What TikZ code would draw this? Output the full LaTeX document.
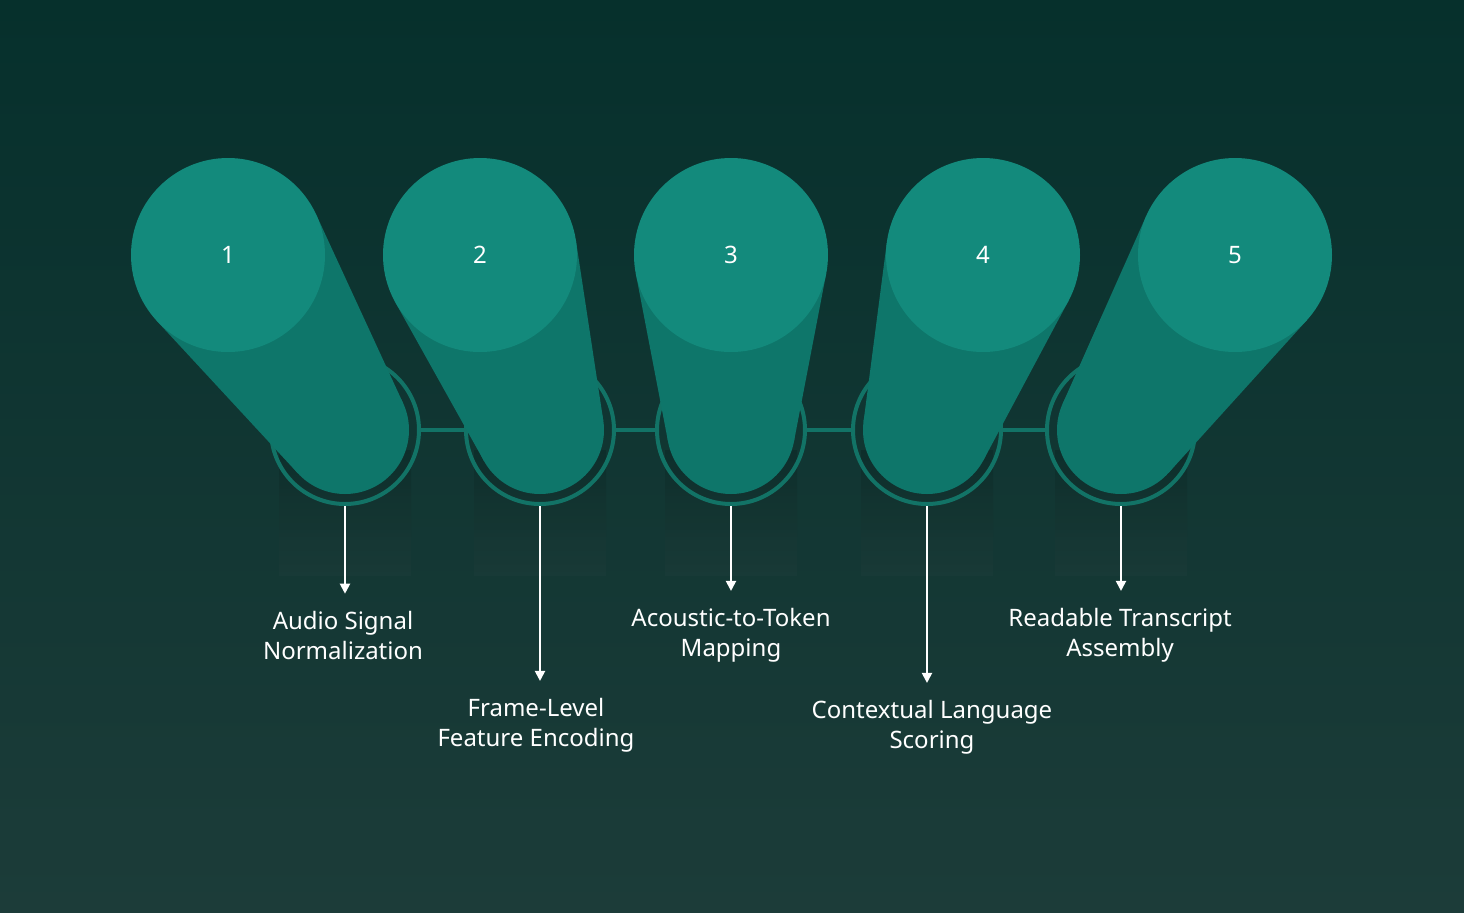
\documentclass[tikz,border=0pt]{standalone}
\usepackage{fontspec}
\setmainfont{Noto Sans}
\usetikzlibrary{arrows.meta,calc}
\definecolor{bgtop}{HTML}{06302C}
\definecolor{bgbot}{HTML}{1C3C39}
\definecolor{topc}{HTML}{138A7C}
\definecolor{bandc}{HTML}{0E766A}
\definecolor{ringc}{HTML}{127366}
\definecolor{shad}{HTML}{0C2A27}
\tikzset{lbl/.style={text=white,font=\fontsize{12}{15}\selectfont,align=center},
num/.style={text=white,font=\fontsize{12}{14}\selectfont},
arr/.style={draw=white,line width=1pt,shorten >=5pt,-{Triangle[length=5pt,width=5pt]}}}
\begin{document}
\begin{tikzpicture}[x=0.5pt,y=-0.5pt]
\useasboundingbox (0,0) rectangle (1464,912);
\shade[top color=bgtop,bottom color=bgbot] (0,0) rectangle (1464,912);
\foreach \bx in {345,540,731,927,1121}{
  \shade[top color=shad,bottom color=bgbot,opacity=0.6] (\bx-66,450) rectangle (\bx+66,575);
}
\draw[ringc,line width=2pt] (420,430) -- (464,430) (614,430)--(657,430) (806,430)--(853,430) (1002,430)--(1047,430);
\foreach \i/\bx/\tx in {1/345/228,2/540/480,3/731/731,4/927/983,5/1121/1235}{
  \coordinate (b\i) at (\bx,430);
  \coordinate (t\i) at (\tx,255);
  \draw[ringc,line width=2pt] (b\i) circle[radius=74];
  \pgfmathsetmacro\dx{(\bx-\tx)/100}
  \pgfmathsetmacro\dy{1.75}
  \pgfmathsetmacro\d{100*sqrt(\dx*\dx+\dy*\dy)}
  \pgfmathsetmacro\th{atan2(\dy,\dx)}
  \pgfmathsetmacro\al{acos((97-64)/\d)}
  \fill[bandc] ($(t\i)+(\th+\al:97)$) -- ($(b\i)+(\th+\al:64)$) -- ($(b\i)+(\th-\al:64)$) -- ($(t\i)+(\th-\al:97)$) -- cycle;
  \fill[bandc] (b\i) circle[radius=64];
  \fill[topc] (t\i) circle[radius=97];
  \node[num] (n\i) at (t\i) {\i};
  \coordinate (s\i) at (\bx,506);
}
\node[lbl] (l1) at (343,635) {Audio Signal\\Normalization};
\node[lbl] (l2) at (536,725) {Frame-Level\\Feature Encoding};
\node[lbl] (l3) at (731,635) {Acoustic-to-Token\\Mapping};
\node[lbl] (l4) at (932,727) {Contextual Language\\Scoring};
\node[lbl] (l5) at (1120,635) {Readable Transcript\\Assembly};
\draw[arr] (s1) -- (s1|-l1.north);
\draw[arr] (s2) -- (s2|-l2.north);
\draw[arr] (s3) -- (s3|-l3.north);
\draw[arr] (s4) -- (s4|-l4.north);
\draw[arr] (s5) -- (s5|-l5.north);
\end{tikzpicture}
\end{document}
